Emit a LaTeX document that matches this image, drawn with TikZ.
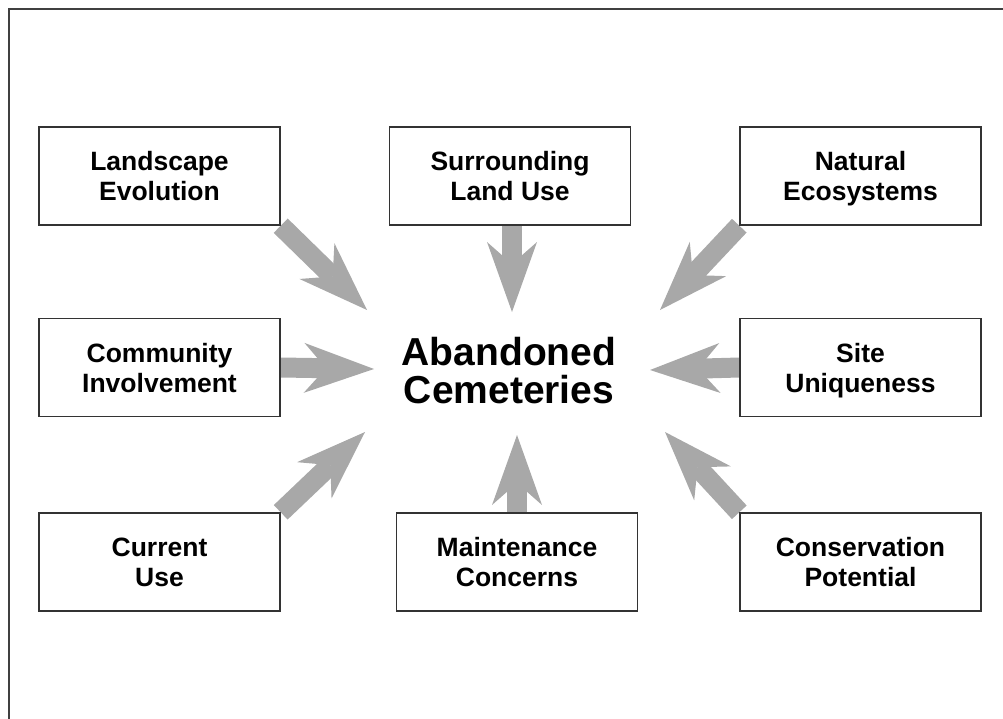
\documentclass[tikz,border=0pt]{standalone}
\usepackage{fontspec}
\setmainfont{Liberation Sans}
\usetikzlibrary{arrows.meta,backgrounds}

\begin{document}
\begin{tikzpicture}[x=1pt, y=-1pt,
	factor/.style={draw=black!80, line width=1.4pt, fill=white, minimum width=241pt, minimum height=98pt, text height=49pt, text depth=0pt, align=center, font=\fontsize{26.5}{30}\selectfont\bfseries},
	influence/.style={draw=black!34, line width=20pt, -{Stealth[length=70pt, width=50pt, inset=22pt, line width=0pt]}}]
			%%%%% START %%%%%
			
			\useasboundingbox (0, 0) rectangle (1003, 719);
			\draw[line width=2pt, color=black!75] (9, 719) -- (9, 9) -- (1003, 9);
			
			\node[font=\fontsize{39}{38}\selectfont\bfseries, align=center] (ac) at (509, 371) {Abandoned\\Cemeteries};
			
			\node[factor] (le) at (159.5, 176) {Landscape\\Evolution};
			\node[factor] (sl) at (510, 176) {Surrounding\\Land Use};
			\node[factor] (ne) at (860.5, 176) {Natural\\Ecosystems};
			\node[factor] (ci) at (159.5, 367.5) {Community\\Involvement};
			\node[factor] (su) at (860.5, 367.5) {Site\\Uniqueness};
			\node[factor] (cu) at (159.5, 562) {Current\\Use};
			\node[factor] (mc) at (517, 562) {Maintenance\\Concerns};
			\node[factor] (cp) at (860.5, 562) {Conservation\\Potential};
			
			\coordinate (tle) at (367, 310);
			\coordinate (tsl) at (512, 312);
			\coordinate (tne) at (660, 310);
			\coordinate (tci) at (374, 369);
			\coordinate (tsu) at (650, 370);
			\coordinate (tcu) at (365, 432);
			\coordinate (tmc) at (517, 435);
			\coordinate (tcp) at (665, 432);
			
			\begin{pgfonlayer}{background}
			\draw[influence] (le.south east) -- (tle);
			\draw[influence] (tsl |- sl.south) -- (tsl);
			\draw[influence] (ne.south west) -- (tne);
			\draw[influence] (ci.east) -- (tci);
			\draw[influence] (su.west) -- (tsu);
			\draw[influence] (cu.north east) -- (tcu);
			\draw[influence] (mc.north) -- (tmc);
			\draw[influence] (cp.north west) -- (tcp);
			\end{pgfonlayer}
			
			%%%%% END %%%%%
\end{tikzpicture}
\end{document}
